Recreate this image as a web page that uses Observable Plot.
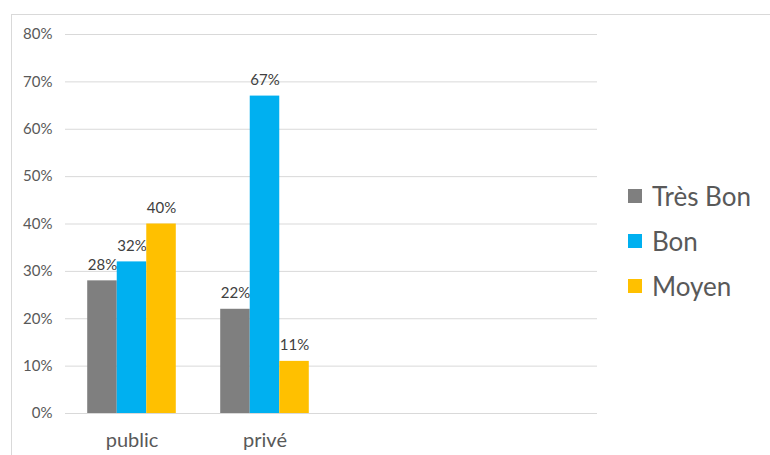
<!DOCTYPE html>
<html><head><meta charset="utf-8">
<script src="https://cdn.jsdelivr.net/npm/d3@7"></script>
<script src="https://cdn.jsdelivr.net/npm/@observablehq/plot@0.6"></script>
<style>
body{margin:0;background:#fff;font-family:Lato,sans-serif;}
#wrap{position:relative;width:770px;height:455px;overflow:hidden;background:#fff;}
#chart{position:absolute;left:0;top:0;}
#border{position:absolute;left:11px;top:14px;width:800px;height:500px;border:1.5px solid #d9d9d9;box-sizing:border-box;}
#legend{position:absolute;left:628px;top:173px;}
.item{display:flex;align-items:center;height:45px;font-size:26px;color:#595959;line-height:1;}
.sw{width:14px;height:14px;margin-right:10px;flex:none;}
</style></head>
<body>
<div id="wrap"><div id="chart"></div><div id="border"></div><div id="legend"></div></div>
<script>
const categories = ["public", "privé"];
const series = ["Très Bon", "Bon", "Moyen"];
const colors = ["#7f7f7f", "#00b0f0", "#ffc000"];
const valuesTresBon = [0.28, 0.22];
const valuesBon = [0.32, 0.67];
const valuesMoyen = [0.40, 0.11];
const yTicks = [0, 0.1, 0.2, 0.3, 0.4, 0.5, 0.6, 0.7, 0.8];
const slotCount = 4; // the category axis has 4 slots, two of them empty

const seriesValues = [valuesTresBon, valuesBon, valuesMoyen];
const W = 770, H = 455, mL = 65, mR = 173, mT = 34, mB = 42;
const step = (W - mL - mR) / slotCount;
const barW = step * 0.222;
const groupLeft = (step - series.length * barW) / 2;
const pct = v => Math.round(v * 100) + "%";

const marks = [
  Plot.ruleY(yTicks, {stroke: "#d9d9d9", strokeWidth: 1})
];
series.forEach((s, i) => {
  const rows = categories.map((c, j) => ({category: c, series: s, value: seriesValues[i][j]}));
  marks.push(Plot.barY(rows, {
    x: "category", y: "value", fill: colors[i],
    insetLeft: groupLeft + i * barW,
    insetRight: step - groupLeft - (i + 1) * barW
  }));
  marks.push(Plot.text(rows, {
    x: "category", y: "value", text: d => pct(d.value),
    dx: (i - (series.length - 1) / 2) * barW, dy: -16,
    fill: "#404040", fontSize: 15, textAnchor: "middle"
  }));
});
marks.push(Plot.axisY({ticks: yTicks, tickFormat: pct, tickSize: 0, tickPadding: 13, fontSize: 15, color: "#595959", label: null}));
marks.push(Plot.axisX({tickSize: 0, tickPadding: 19, fontSize: 20, color: "#595959", label: null}));

const chart = Plot.plot({
  width: W, height: H,
  marginLeft: mL, marginRight: mR, marginTop: mT, marginBottom: mB,
  style: {fontFamily: "Lato, sans-serif", background: "transparent"},
  x: {type: "band", domain: categories, range: [mL, mL + step * categories.length], padding: 0},
  y: {domain: [0, 0.8]},
  marks
});
document.getElementById("chart").appendChild(chart);

const legend = document.getElementById("legend");
series.forEach((s, i) => {
  const item = document.createElement("div");
  item.className = "item";
  const sw = document.createElement("span");
  sw.className = "sw";
  sw.style.background = colors[i];
  const t = document.createElement("span");
  t.textContent = s;
  item.appendChild(sw); item.appendChild(t);
  legend.appendChild(item);
});
</script>
</body></html>
